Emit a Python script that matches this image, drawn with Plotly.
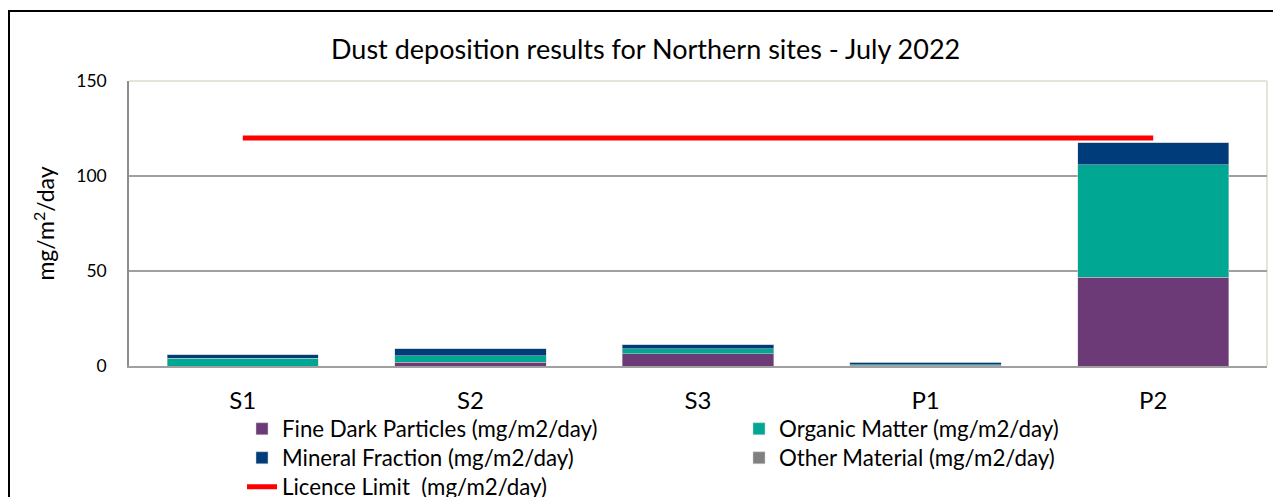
import plotly.graph_objects as go

sites = ["S1", "S2", "S3", "P1", "P2"]
fine_dark = [0.0, 2.1, 6.5, 0.2, 46.8]
organic = [4.2, 3.4, 2.7, 0.5, 59.2]
mineral = [1.8, 3.7, 2.1, 1.4, 11.4]
other = [0.0, 0.0, 0.0, 0.0, 0.0]
licence = [120, 120, 120, 120, 120]

FONT = "Lato"
edge = dict(color="#d0d0d0", width=0.5)

fig = go.Figure()
fig.add_trace(go.Bar(x=sites, y=fine_dark, name="Fine Dark Particles (mg/m2/day)",
                     marker=dict(color="#6B3A77", line=edge), legend="legend"))
fig.add_trace(go.Bar(x=sites, y=organic, name="Organic Matter (mg/m2/day)",
                     marker=dict(color="#00A894", line=edge), legend="legend"))
fig.add_trace(go.Bar(x=sites, y=mineral, name="Mineral Fraction (mg/m2/day)",
                     marker=dict(color="#003B7A", line=edge), legend="legend2"))
fig.add_trace(go.Bar(x=sites, y=other, name="Other Material (mg/m2/day)",
                     marker=dict(color="#808080", line=edge), legend="legend2"))
fig.add_trace(go.Scatter(x=sites, y=licence, mode="lines", name="Licence Limit  (mg/m2/day)",
                         line=dict(color="#FF0000", width=5), legend="legend3"))

leg_common = dict(orientation="h", x=0.0993, xanchor="left", yanchor="top",
                  entrywidth=452, entrywidthmode="pixels",
                  font=dict(size=22.3, family=FONT), traceorder="normal",
                  bgcolor="rgba(0,0,0,0)")

fig.update_layout(
    width=1273, height=497,
    barmode="stack", bargap=0.335,
    paper_bgcolor="white", plot_bgcolor="white",
    margin=dict(l=129, r=6, t=81, b=131, autoexpand=False),
    font=dict(family=FONT, color="black", size=18),
    title=dict(text="Dust deposition results for Northern sites - July 2022",
               x=0.454, xanchor="center", xref="paper", y=0.9, yref="container",
               yanchor="middle", font=dict(size=27, family=FONT)),
    legend=dict(leg_common, y=-0.1465),
    legend2=dict(leg_common, y=-0.2483),
    legend3=dict(leg_common, y=-0.3501),
    showlegend=True,
)
fig.update_xaxes(showline=True, linecolor="#a0a0a0", linewidth=2, showgrid=False,
                 automargin=False, ticks="", tickfont=dict(size=24), ticklabelstandoff=12)
fig.update_yaxes(range=[0, 150], dtick=50, showline=True, linecolor="#8c8c8c", linewidth=1.5,
                 showgrid=True, gridcolor="#a0a0a0", gridwidth=1.5, zeroline=False,
                 automargin=False, ticks="", tickfont=dict(size=17.5), ticklabelstandoff=17,
                 title=dict(text="mg/m<sup>2</sup>/day", font=dict(size=23)))

# plot-area top/right border and outer chart border
fig.add_shape(type="line", xref="paper", yref="paper", x0=0, x1=1, y0=1, y1=1,
              line=dict(color="#dcdcc8", width=1.5), layer="below")
fig.add_shape(type="line", xref="paper", yref="paper", x0=1, x1=1, y0=0, y1=1,
              line=dict(color="#dcdcc8", width=1.5), layer="below")
fig.add_shape(type="rect", xref="paper", yref="paper",
              x0=(9 - 129) / 1138, x1=(1290 - 129) / 1138,
              y0=(366 - 520) / 285, y1=(366 - 11) / 285,
              line=dict(color="black", width=2), fillcolor="rgba(0,0,0,0)")

fig.write_html("out.html", config={"displayModeBar": False},
               post_script="document.body.style.margin='0';")
